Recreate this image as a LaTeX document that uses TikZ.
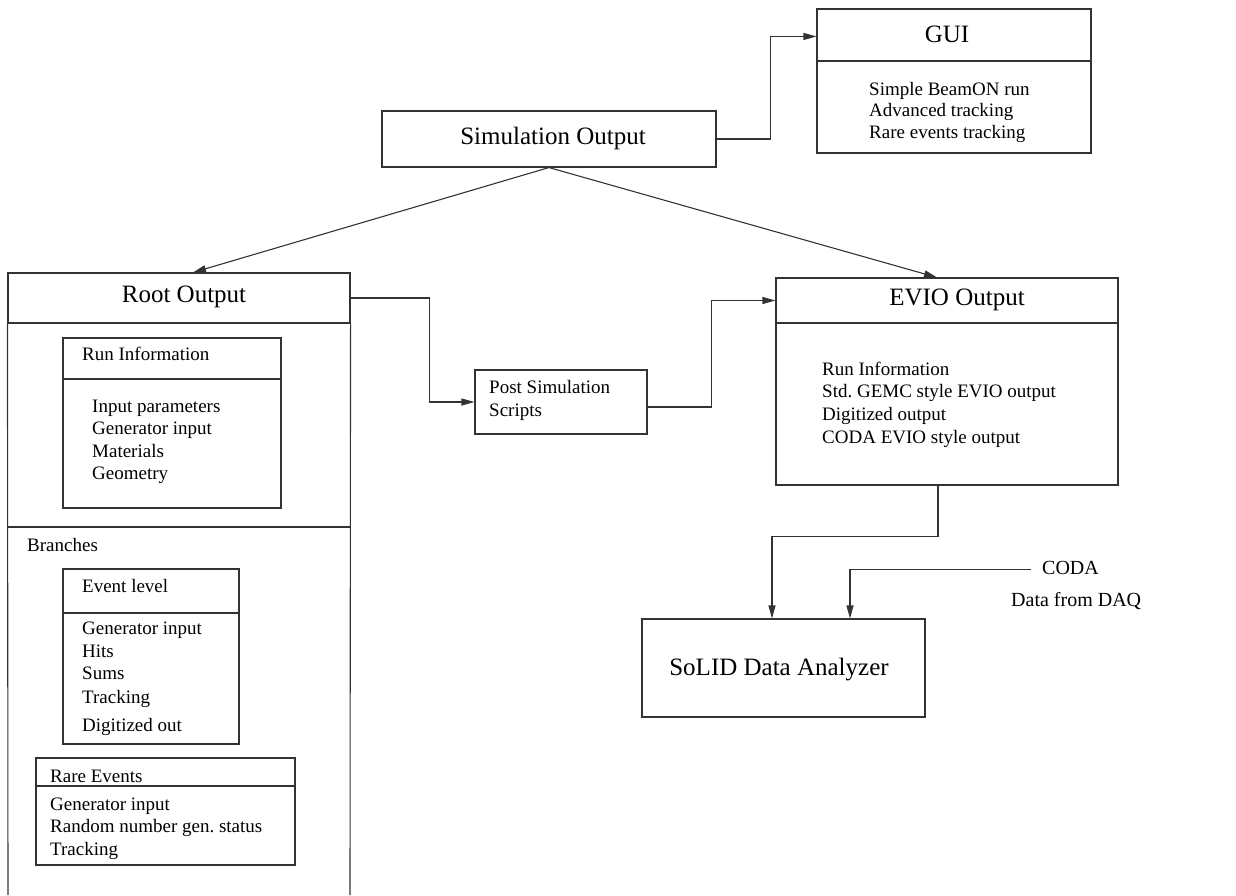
\documentclass[tikz,border=0pt]{standalone}
\usepackage{fontspec}
\setmainfont{Liberation Serif}
\usetikzlibrary{arrows.meta}
\tikzset{
  box/.style={draw=black!80, line width=1.1pt, inner sep=0pt},
  ln/.style={draw=black!80, line width=1.1pt},
  ttl/.style={font=\fontsize{25}{30}\selectfont, inner sep=0pt, anchor=base},
  itm/.style={font=\fontsize{19}{22}\selectfont, inner sep=0pt, anchor=base west},
  arr/.style={draw=black!80, line width=1.1pt, -{Triangle[length=13pt,width=7pt]}},
}
\begin{document}
\begin{tikzpicture}[x=1pt, y=-1pt]
  \useasboundingbox (0,0) rectangle (1236,895);
  % boxes
  \node[box, minimum width=334pt, minimum height=56pt] (sim) at (549,139) {};
  \node[box, minimum width=274pt, minimum height=52pt] (guihead) at (954,35) {};
  \node[box, minimum width=274pt, minimum height=92pt] (guibody) at (954,107) {};
  \node[box, minimum width=342pt, minimum height=50pt] (roothead) at (179,298) {};
  \node[box, minimum width=218pt, minimum height=41pt] (runhead) at (172,358.5) {};
  \node[box, minimum width=218pt, minimum height=129pt] (runbody) at (172,443.5) {};
  \node[box, minimum width=176pt, minimum height=44pt] (evthead) at (151,591) {};
  \node[box, minimum width=176pt, minimum height=131pt] (evtbody) at (151,678.5) {};
  \node[box, minimum width=259pt, minimum height=28pt] (rarehead) at (165.5,772) {};
  \node[box, minimum width=259pt, minimum height=79pt] (rarebody) at (165.5,825.5) {};
  \node[box, minimum width=172pt, minimum height=64pt] (post) at (561,402) {};
  \node[box, minimum width=342pt, minimum height=45pt] (eviohead) at (947,300.5) {};
  \node[box, minimum width=342pt, minimum height=162pt] (eviobody) at (947,404) {};
  \node[box, minimum width=283pt, minimum height=98pt] (solid) at (783.5,668) {};
  % root output runs off the page
  \draw[ln] (roothead.south west) -- (8,895);
  \draw[ln] (roothead.south east) -- (350,895);
  \draw[ln] (8,527) -- (350,527);

  % titles
  \node[ttl] (simt) at (553,144) {Simulation Output};
  \node[ttl] (guit) at (947,42) {GUI};
  \node[ttl] (roott) at (184,302) {Root Output};
  \node[ttl] (eviot) at (957,305) {EVIO Output};
  \node[ttl] (solidt) at (779,675) {SoLID Data Analyzer};

  % entries
  \foreach \t [count=\i from 0] in {Simple BeamON run, Advanced tracking, Rare events tracking}
    \node[itm] (gui\i) at (869,{95+21.5*\i}) {\t};
  \node[itm] (runt) at (82,360) {Run Information};
  \foreach \t [count=\i from 0] in {Input parameters, Generator input, Materials, Geometry}
    \node[itm] (run\i) at (92,{412+22.5*\i}) {\t};
  \node[itm] (branches) at (27,551) {Branches};
  \node[itm] (evtt) at (82,592) {Event level};
  \foreach \t/\y [count=\i] in {Generator input/634, Hits/657, Sums/679, Tracking/703, Digitized out/731}
    \node[itm] (evt\i) at (82,\y) {\t};
  \node[itm] (raret) at (50,782) {Rare Events};
  \foreach \t [count=\i from 0] in {Generator input, Random number gen.\ status, Tracking}
    \node[itm] (rare\i) at (50,{810+22.5*\i}) {\t};
  \node[itm] (post1) at (489,393) {Post Simulation};
  \node[itm] (post2) at (489,416) {Scripts};
  \foreach \t [count=\i from 0] in {Run Information, Std.\ GEMC style EVIO output, Digitized output, CODA EVIO style output}
    \node[itm] (evio\i) at (822,{375+22.7*\i}) {\t};
  \node[itm, font=\fontsize{20}{24}\selectfont] (coda) at (1042,574) {CODA};
  \node[itm, font=\fontsize{20}{24}\selectfont] (daq) at (1011,606) {Data from DAQ};

  % connectors
  \draw[arr] (sim.east) -- ++(54,0) |- ([yshift=-28pt]guihead.north west);
  \draw[arr] (sim.south) -- ([xshift=14pt]roothead.north);
  \draw[arr] (sim.south) -- ([xshift=-10pt]eviohead.north);
  \draw[arr] (roothead.east) -- ++(79,0) |- (post.west);
  \draw[arr] ([yshift=-5pt]post.east) -- ++(64,0) |- (eviohead.west);
  \draw[arr] ([xshift=-9pt]eviobody.south) -- ++(0,51) -| ([xshift=-11.5pt]solid.north);
  \draw[arr] ([xshift=-11pt,yshift=-2pt]coda.west) -| ([xshift=66.5pt]solid.north);
\end{tikzpicture}
\end{document}
